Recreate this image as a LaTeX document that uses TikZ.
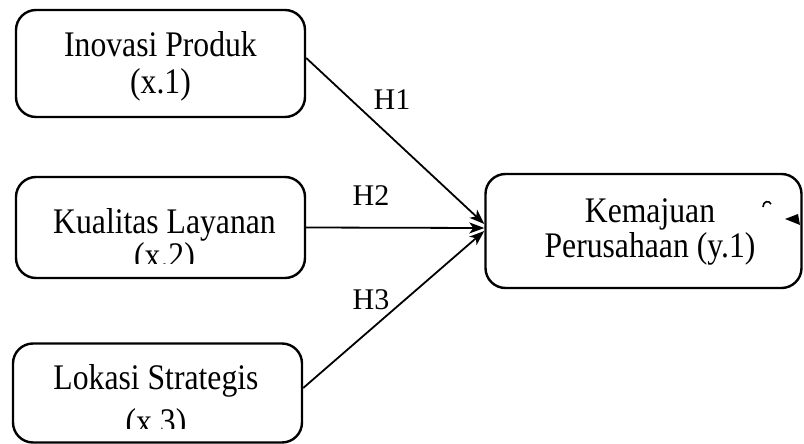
\documentclass[tikz,border=0pt]{standalone}
\usepackage{fontspec}
\setmainfont{Liberation Serif}
\newfontfamily\tallserif[FakeStretch=0.88]{Liberation Serif}
\usetikzlibrary{arrows.meta}
\begin{document}
\begin{tikzpicture}[x=1pt,y=-1pt,
  box/.style={draw,line width=2.4pt,rounded corners=20pt,inner sep=0pt},
  txt/.style={inner sep=0pt,font=\tallserif\fontsize{36}{40}\selectfont},
  lbl/.style={inner sep=0pt,font=\fontsize{30}{34}\selectfont},
  link/.style={line width=1.8pt,-{Stealth[length=15pt,width=11pt,inset=4pt]}}]
\useasboundingbox (0,0) rectangle (804,444);
% boxes
\node[box,minimum width=289pt,minimum height=107pt] (x1) at (160.5,63.5) {};
\node[box,minimum width=289pt,minimum height=101pt] (x2) at (160.5,227.5) {};
\node[box,minimum width=289pt,minimum height=99pt] (x3) at (157.5,393) {};
\node[box,minimum width=316pt,minimum height=114pt] (y1) at (643.5,231) {};
% texts
\node[txt,anchor=base] (t1a) at (160.5,57) {Inovasi Produk};
\node[txt,anchor=base] (t1b) at (160.5,94) {(x.1)};
\node[txt,anchor=base] (t2a) at (164.5,233) {Kualitas Layanan};
\begin{scope}
\clip (0,0) rectangle (804,263);
\node[txt,anchor=base] (t2b) at (164.5,267) {(x.2)};
\end{scope}
\node[txt,anchor=base] (t3a) at (156,389) {Lokasi Strategis};
\begin{scope}
\clip (0,0) rectangle (804,428);
\node[txt,anchor=base] (t3b) at (156,433) {(x.3)};
\end{scope}
\node[txt,anchor=base] (ya) at (650,222) {Kemajuan};
\node[txt,anchor=base] (yb) at (650,257) {Perusahaan (y.1)};
% stray marks
\fill (785,219) -- (798,214) -- (800,225) -- cycle;
\draw[line width=1.6pt] (763,207) .. controls (763,201) and (769,200) .. (771,204);
% connectors
\draw[link] ([yshift=5.5pt]x1.east) -- ([yshift=7pt]y1.west);
\draw[link] (x2.east) -- ([yshift=3pt]y1.west);
\draw[link] ([yshift=5pt]x3.east) -- ([yshift=0pt]y1.west);
% labels
\node[lbl,anchor=base] (h1) at (392,110) {H1};
\node[lbl,anchor=base] (h2) at (371,205) {H2};
\node[lbl,anchor=base] (h3) at (371,309) {H3};
\end{tikzpicture}
\end{document}
